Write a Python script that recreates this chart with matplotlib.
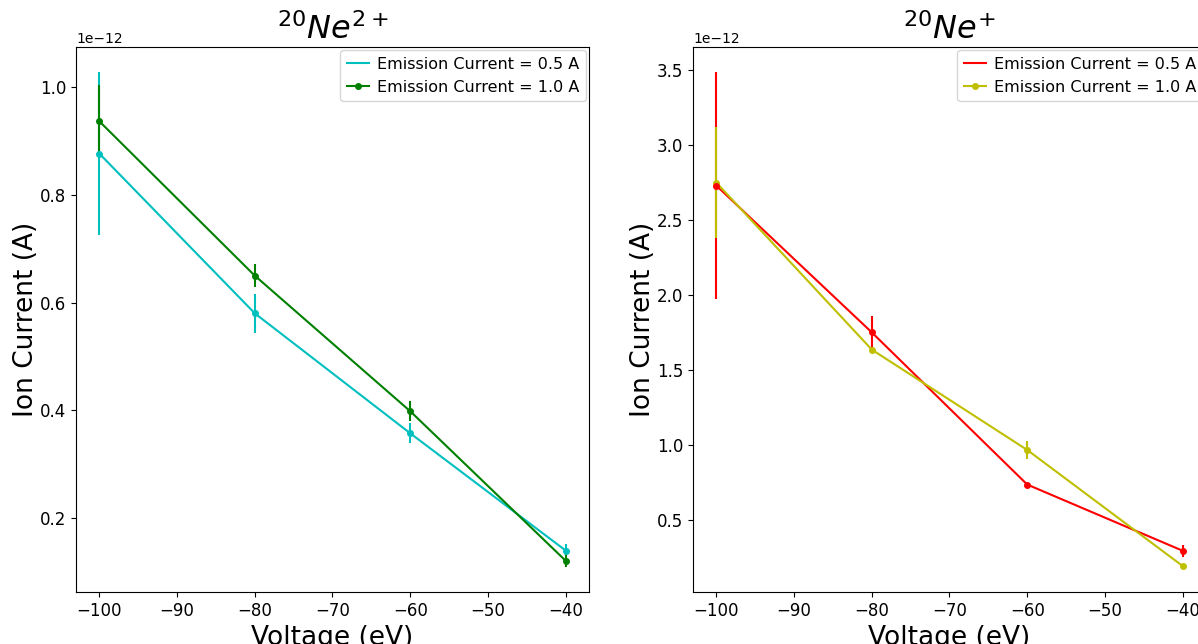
import numpy as np
import matplotlib
matplotlib.use('Agg')
import matplotlib.pyplot as plt

voltage = [-100, -80, -60, -40]

# Ne2+ data
ne2_05 = [0.877e-12, 0.580e-12, 0.357e-12, 0.139e-12]
ne2_05_err = [0.152e-12, 0.036e-12, 0.019e-12, 0.012e-12]
ne2_10 = [0.937e-12, 0.650e-12, 0.398e-12, 0.120e-12]
ne2_10_err = [0.067e-12, 0.021e-12, 0.019e-12, 0.012e-12]

# Ne+ data
ne1_05 = [2.73e-12, 1.75e-12, 0.734e-12, 0.292e-12]
ne1_05_err = [0.76e-12, 0.11e-12, 0.01e-12, 0.04e-12]
ne1_10 = [2.75e-12, 1.635e-12, 0.965e-12, 0.19e-12]
ne1_10_err = [0.37e-12, 0.01e-12, 0.06e-12, 0.008e-12]

W, H = 1198, 644
fig = plt.figure(figsize=(W / 100, H / 100), dpi=100)
ax1 = fig.add_axes([76 / W, (H - 592) / H, 513 / W, 545 / H])
ax2 = fig.add_axes([693 / W, (H - 592) / H, 513 / W, 545 / H])

def panel(ax, a, a_err, b, b_err, ca, cb, title):
    ax.plot(voltage, a, color=ca, label='Emission Current = 0.5 A')
    ax.errorbar(voltage, a, yerr=a_err, fmt='o', color=ca, markersize=4)
    ax.plot(voltage, b, 'o-', color=cb, markersize=4,
            label='Emission Current = 1.0 A')
    ax.errorbar(voltage, b, yerr=b_err, fmt='none', ecolor=cb)
    ax.set_title(title, fontsize=23)
    ax.set_xlabel('Voltage (eV)', fontsize=19)
    ax.set_ylabel('Ion Current (A)', fontsize=19, labelpad=1)
    ax.tick_params(labelsize=12)
    ax.legend(loc='upper right', fontsize=11.5, handlelength=1.4,
              handletextpad=0.5, borderaxespad=0.2)

panel(ax1, ne2_05, ne2_05_err, ne2_10, ne2_10_err, 'c', 'g', r'$^{20}Ne^{2+}$')
panel(ax2, ne1_05, ne1_05_err, ne1_10, ne1_10_err, 'r', 'y', r'$^{20}Ne^{+}$')

fig.savefig('out.png', dpi=100)
